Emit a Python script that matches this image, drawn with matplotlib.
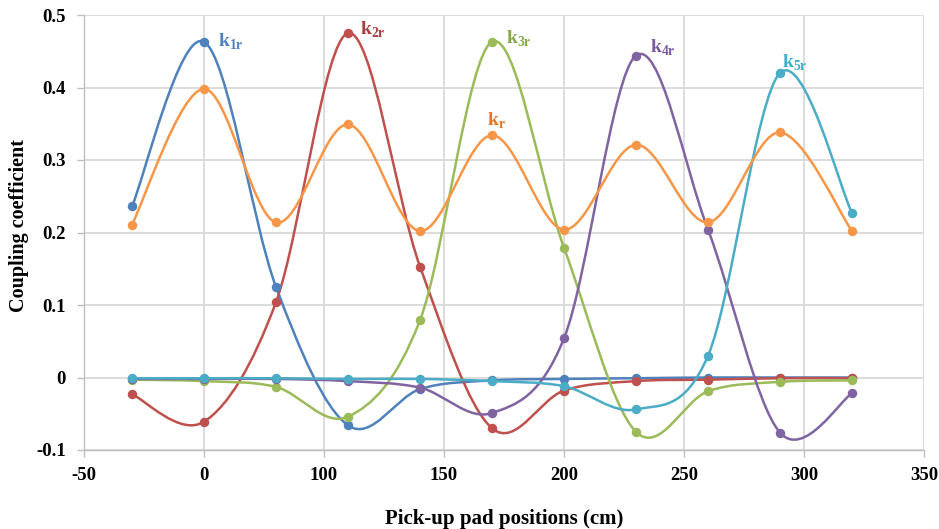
import numpy as np
import matplotlib
matplotlib.use("Agg")
import matplotlib.pyplot as plt
from matplotlib.path import Path
from matplotlib.patches import PathPatch

plt.rcParams['font.family'] = ['Liberation Serif', 'DejaVu Serif']
plt.rcParams['mathtext.fontset'] = 'custom'
plt.rcParams['mathtext.rm'] = 'Liberation Serif'
plt.rcParams['mathtext.bf'] = 'Liberation Serif:bold'

# ---- data ----
positions = [-30, 0, 30, 60, 90, 120, 150, 180, 210, 240, 270]
k1r = [0.236, 0.463, 0.125, -0.066, -0.016, -0.004, -0.002, -0.001, 0.0, 0.0, 0.0]
k2r = [-0.023, -0.061, 0.104, 0.475, 0.153, -0.070, -0.018, -0.005, -0.003, -0.001, -0.001]
k3r = [-0.003, -0.005, -0.013, -0.054, 0.079, 0.463, 0.179, -0.075, -0.019, -0.006, -0.004]
k4r = [-0.002, -0.002, -0.002, -0.005, -0.014, -0.049, 0.054, 0.444, 0.204, -0.076, -0.022]
k5r = [-0.001, -0.001, -0.001, -0.002, -0.002, -0.005, -0.012, -0.044, 0.030, 0.420, 0.227]
kr = [0.211, 0.398, 0.214, 0.349, 0.202, 0.334, 0.204, 0.321, 0.214, 0.338, 0.202]

x_ticks = [-50, 0, 50, 100, 150, 200, 250, 300]
x_tick_labels = ["-50", "0", "100", "150", "200", "250", "300", "350"]
y_ticks = [-0.1, 0, 0.1, 0.2, 0.3, 0.4, 0.5]
y_tick_labels = ["-0.1", "0", "0.1", "0.2", "0.3", "0.4", "0.5"]

series = [
    ("k1r", k1r, "#4F81BD", r"$\mathbf{k}_{\mathbf{1r}}$", (6, 0.463), "#4F81BD"),
    ("k2r", k2r, "#C0504D", r"$\mathbf{k}_{\mathbf{2r}}$", (65, 0.479), "#A5403D"),
    ("k3r", k3r, "#9BBB59", r"$\mathbf{k}_{\mathbf{3r}}$", (126, 0.467), "#86A84A"),
    ("k4r", k4r, "#8064A2", r"$\mathbf{k}_{\mathbf{4r}}$", (186, 0.455), "#7A5C9E"),
    ("k5r", k5r, "#4BACC6", r"$\mathbf{k}_{\mathbf{5r}}$", (241, 0.434), "#3CB0D0"),
    ("kr", kr, "#F79646", r"$\mathbf{k}_{\mathbf{r}}$", (118, 0.354), "#E8771E"),
]


def smooth_path(xs, ys):
    xs = np.asarray(xs, float)
    ys = np.asarray(ys, float)
    pts = np.column_stack([xs, ys])
    n = len(pts)
    verts = [pts[0]]
    codes = [Path.MOVETO]
    for i in range(n - 1):
        p0 = pts[i - 1] if i > 0 else pts[i]
        p1 = pts[i]
        p2 = pts[i + 1]
        p3 = pts[i + 2] if i + 2 < n else pts[i + 1]
        c1 = p1 + (p2 - p0) / 6.0
        c2 = p2 - (p3 - p1) / 6.0
        verts += [c1, c2, p2]
        codes += [Path.CURVE4] * 3
    return Path(verts, codes)


fig = plt.figure(figsize=(9.39, 5.29), dpi=100)
ax = fig.add_axes([84 / 939, 1 - 450 / 529, (924 - 84) / 939, (450 - 15) / 529])

for name, vals, color, label, (lx, ly), lcolor in series:
    patch = PathPatch(smooth_path(positions, vals), facecolor='none', edgecolor=color,
                      lw=1.8, zorder=3, capstyle='round', joinstyle='round')
    ax.add_patch(patch)
    ax.plot(positions, vals, 'o', color=color, ms=5.8, zorder=4)
    ax.text(lx, ly, label, color=lcolor, fontsize=14, ha='left', va='center', zorder=5)

ax.set_xlim(-50, 300)
ax.set_ylim(-0.1, 0.5)
ax.set_xticks(x_ticks)
ax.set_xticklabels(x_tick_labels)
ax.set_yticks(y_ticks)
ax.set_yticklabels(y_tick_labels)

ax.grid(True, color='#D9D9D9', lw=1.3, zorder=0)
ax.set_axisbelow(True)
for s in ['top', 'right']:
    ax.spines[s].set_visible(False)
for s in ['left', 'bottom']:
    ax.spines[s].set_color('#BFBFBF')
    ax.spines[s].set_linewidth(1.0)
ax.tick_params(axis='both', colors='#BFBFBF', length=5, width=1.0, direction='out')
for lab in ax.get_xticklabels() + ax.get_yticklabels():
    lab.set_color('black')
    lab.set_fontweight('bold')
    lab.set_fontsize(13.5)
ax.tick_params(axis='x', pad=7)
ax.tick_params(axis='y', pad=8)

ax.set_xlabel("Pick-up pad positions (cm)", fontsize=15, fontweight='bold', labelpad=18)
ax.set_ylabel("Coupling coefficient", fontsize=14.5, fontweight='bold', labelpad=5)
ax.yaxis.label.set_y(0.515)

fig.savefig("out.png", dpi=100)
